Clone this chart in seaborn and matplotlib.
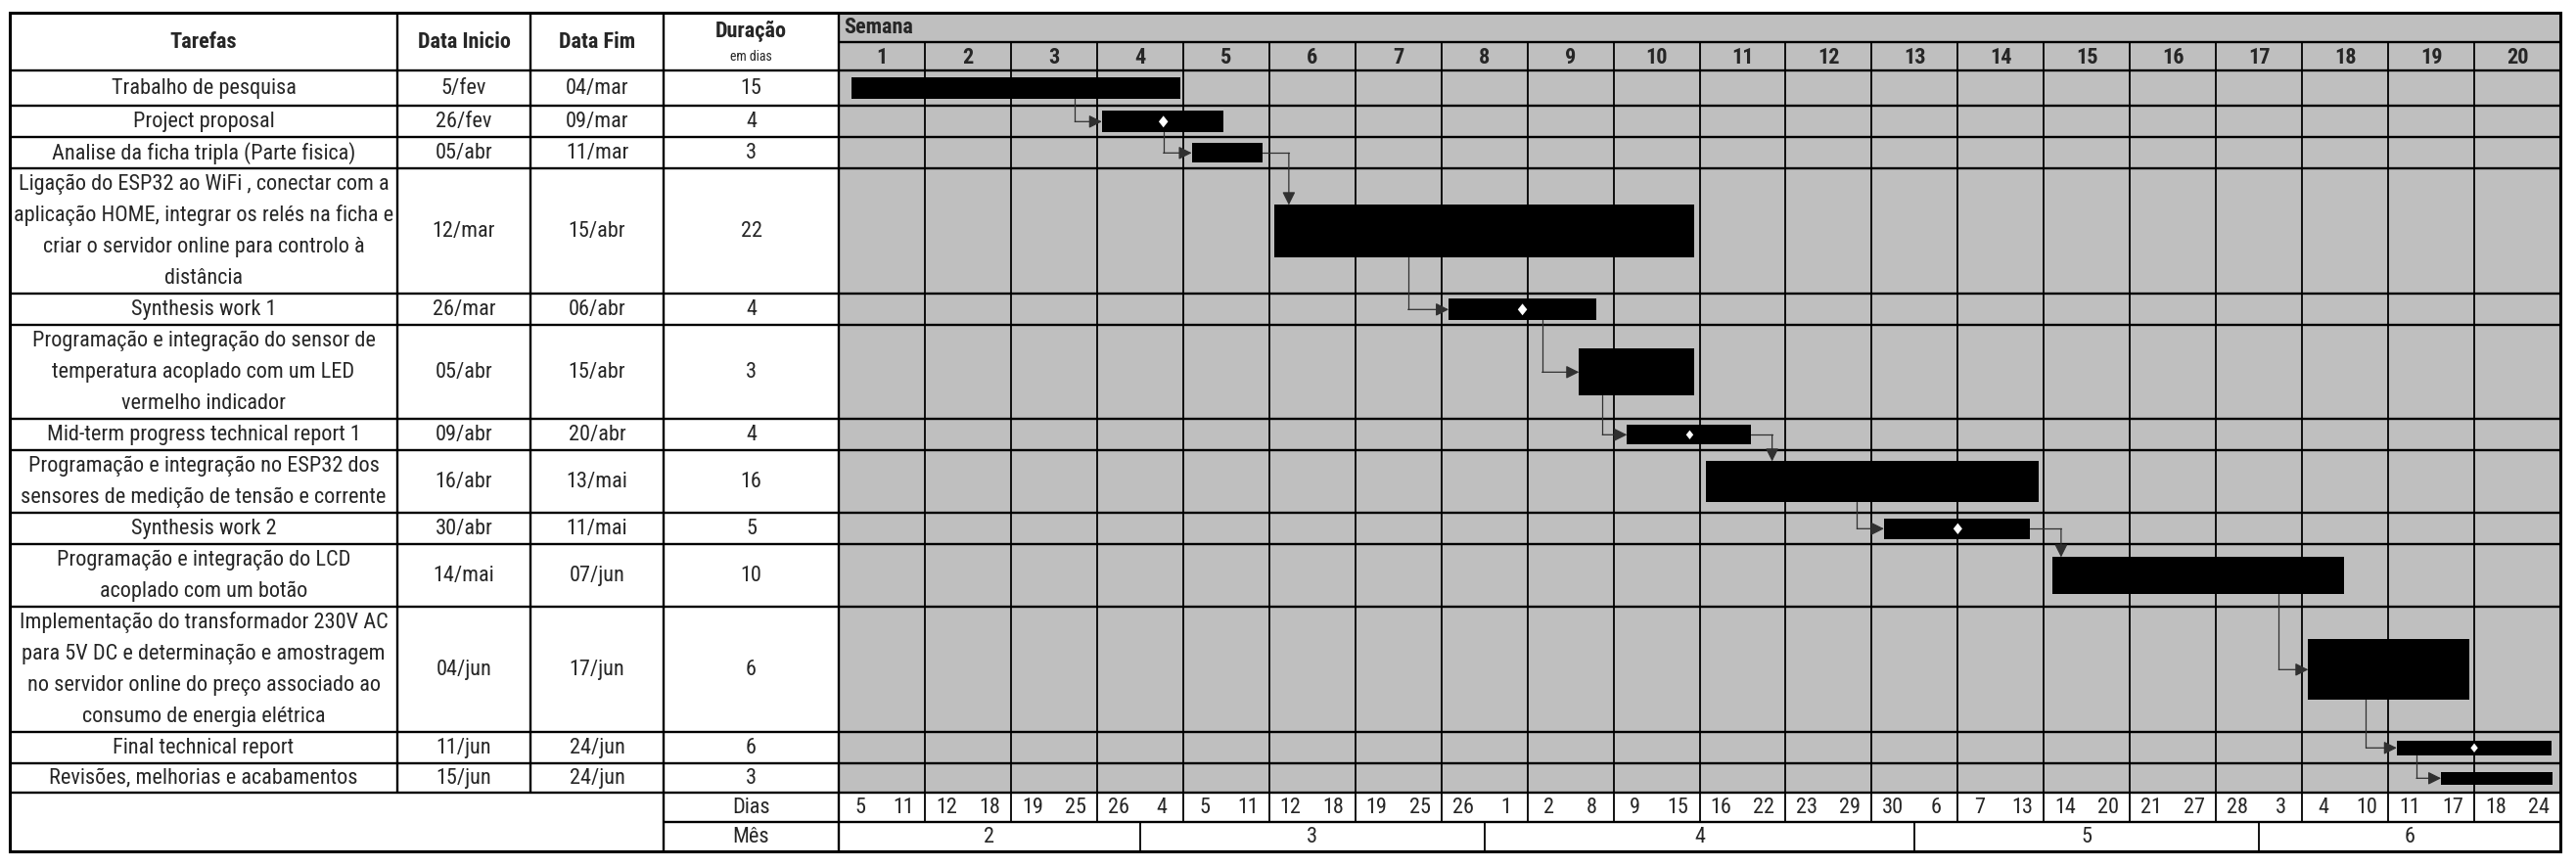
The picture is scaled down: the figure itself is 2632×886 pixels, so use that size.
import matplotlib
matplotlib.use("Agg")
import matplotlib.pyplot as plt
import pandas as pd
import seaborn as sns
from matplotlib.path import Path
from matplotlib import font_manager

# ---- dados ----
tarefas = [
    ["Trabalho de pesquisa"],
    ["Project proposal"],
    ["Analise da ficha tripla (Parte fisica)"],
    ["Ligação do ESP32 ao WiFi , conectar com a",
     "aplicação HOME, integrar os relés na ficha e",
     "criar o servidor online para controlo à",
     "distância"],
    ["Synthesis work 1"],
    ["Programação e integração do sensor de",
     "temperatura acoplado com um LED",
     "vermelho indicador"],
    ["Mid-term progress technical report 1"],
    ["Programação e integração no ESP32 dos",
     "sensores de medição de tensão e corrente"],
    ["Synthesis work 2"],
    ["Programação e integração do LCD",
     "acoplado com um botão"],
    ["Implementação do transformador 230V AC",
     "para 5V DC e determinação e amostragem",
     "no servidor online do preço associado ao",
     "consumo de energia elétrica"],
    ["Final technical report"],
    ["Revisões, melhorias e acabamentos"],
]
data_inicio = ["5/fev", "26/fev", "05/abr", "12/mar", "26/mar", "05/abr", "09/abr",
               "16/abr", "30/abr", "14/mai", "04/jun", "11/jun", "15/jun"]
data_fim = ["04/mar", "09/mar", "11/mar", "15/abr", "06/abr", "15/abr", "20/abr",
            "13/mai", "11/mai", "07/jun", "17/jun", "24/jun", "24/jun"]
duracao = [15, 4, 3, 22, 4, 3, 4, 16, 5, 10, 6, 6, 3]

semanas = [1, 2, 3, 4, 5, 6, 7, 8, 9, 10, 11, 12, 13, 14, 15, 16, 17, 18, 19, 20]
dia_ini = [5, 12, 19, 26, 5, 12, 19, 26, 2, 9, 16, 23, 30, 7, 14, 21, 28, 4, 11, 18]
dia_fim = [11, 18, 25, 4, 11, 18, 25, 1, 8, 15, 22, 29, 6, 13, 20, 27, 3, 10, 17, 24]
meses = ["2", "3", "4", "5", "6"]
meses_meias = [7, 8, 10, 8, 7]   # meias-semanas por mes

# barras do gantt, em dias a contar de 5/fev
bar_inicio = [1.0, 21.4, 28.7, 35.4, 49.6, 60.2, 64.1, 70.5, 85.0, 98.7, 119.5, 126.7, 130.3]
bar_fim = [27.8, 31.3, 34.5, 69.6, 61.6, 69.6, 74.2, 97.6, 96.9, 122.4, 132.6, 139.3, 139.4]
marco_tarefa = [1, 4, 6, 8, 11]
marco_dia = [26.4, 55.6, 69.2, 91.0, 133.0]
# ligacoes: origem, destino, tipo, dia do troco vertical
lig_origem = [0, 1, 2, 3, 4, 5, 6, 7, 8, 9, 10, 11]
lig_destino = [1, 2, 3, 4, 5, 6, 7, 8, 9, 10, 11, 12]
lig_tipo = ["baixo", "baixo", "direita", "baixo", "baixo", "baixo",
            "direita", "baixo", "direita", "baixo", "baixo", "baixo"]
lig_dia = [19.2, 26.4, 36.6, 46.3, 57.2, 62.1, 75.9, 82.8, 99.4, 117.1, 124.2, 128.3]

# ---- layout (pixels) ----
W, H = 2632, 886
cx = [10, 406, 542, 678, 857]
gx0, gx1 = 857, 2616
y_top, y_sem, y_head = 12.7, 42.7, 72.3
row_h = [36, 32, 32, 128, 32, 96, 32, 64, 32, 64, 128, 32, 30]
bar_h = [21.7, 21.7, 19.7, 53.7, 21.7, 47.7, 19.7, 41.7, 20.7, 37.7, 61.7, 14.7, 13]
marco_px = [8.6, 8.6, 6.7, 8.2, 6.7]
dias_h, mes_h = 30, 30
GREY = "#bfbfbf"
LW_B, LW_R, LW_C = 2.2, 1.7, 1.3

sns.set_theme(style="white")
disponiveis = {f.name for f in font_manager.fontManager.ttflist}
fonte, FS = "Lato", 14.5
for nome, tam in [("Liberation Sans Narrow", 15.5), ("Roboto Condensed", 16),
                  ("Open Sans Condensed", 15.5)]:
    if nome in disponiveis:
        fonte, FS = nome, tam
        break
plt.rcParams["font.family"] = [fonte, "DejaVu Sans"]

df = pd.DataFrame({"inicio": bar_inicio, "fim": bar_fim, "h": bar_h, "rows": row_h})
df["topo"] = df["rows"].cumsum() - df["rows"]
df["centro"] = df["topo"] + df["rows"] / 2

fig = plt.figure(figsize=(W / 100, H / 100), dpi=100)
tab = fig.add_axes([0, 0, 1, 1])
tab.set_xlim(0, W)
tab.set_ylim(H, 0)
tab.axis("off")

y_rows_end = y_head + sum(row_h)
y_dias = y_rows_end + dias_h
y_mes = y_dias + mes_h
wk = (gx1 - gx0) / len(semanas)

# fundo cinzento da zona das semanas
tab.add_patch(plt.Rectangle((gx0, y_top), gx1 - gx0, y_rows_end - y_top,
                            facecolor=GREY, edgecolor="none", zorder=0))

# linhas horizontais
tab.hlines(y_sem, gx0, gx1, color="black", lw=LW_R)
yy = y_head
tab.hlines(yy, cx[0], gx1, color="black", lw=LW_R)
for h in row_h:
    yy += h
    tab.hlines(yy, cx[0], gx1, color="black", lw=LW_R)
tab.hlines(y_dias, cx[3], gx1, color="black", lw=LW_R)

# linhas verticais
for x in cx[1:4]:
    tab.vlines(x, y_top, y_rows_end, color="black", lw=LW_R)
tab.vlines(cx[3], y_rows_end, y_mes, color="black", lw=LW_R)
tab.vlines(cx[4], y_top, y_mes, color="black", lw=LW_R)
for i in range(1, len(semanas)):
    tab.vlines(gx0 + i * wk, y_sem, y_dias, color="black", lw=LW_C)
acc = 0
for n in meses_meias[:-1]:
    acc += n
    tab.vlines(gx0 + acc * wk / 2, y_dias, y_mes, color="black", lw=LW_C)
tab.add_patch(plt.Rectangle((cx[0], y_top), gx1 - cx[0], y_mes - y_top,
                            facecolor="none", edgecolor="black", lw=LW_B, zorder=5))

# cabecalho
ymid = (y_top + y_head) / 2
tab.text((cx[0] + cx[1]) / 2, ymid, "Tarefas", ha="center", va="center",
         fontsize=FS, fontweight="bold")
tab.text((cx[1] + cx[2]) / 2, ymid, "Data Inicio", ha="center", va="center",
         fontsize=FS, fontweight="bold")
tab.text((cx[2] + cx[3]) / 2, ymid, "Data Fim", ha="center", va="center",
         fontsize=FS, fontweight="bold")
tab.text((cx[3] + cx[4]) / 2, 31.5, "Duração", ha="center", va="center",
         fontsize=FS, fontweight="bold")
tab.text((cx[3] + cx[4]) / 2, 57.5, "em dias", ha="center", va="center", fontsize=10)
tab.text(gx0 + 5, (y_top + y_sem) / 2, "Semana", ha="left", va="center",
         fontsize=FS, fontweight="bold")
for i, s in enumerate(semanas):
    tab.text(gx0 + (i + 0.5) * wk, (y_sem + y_head) / 2 + 1, str(s), ha="center",
             va="center", fontsize=FS, fontweight="bold")

# linhas da tabela
for i, linhas in enumerate(tarefas):
    top = y_head + df["topo"][i]
    rh = row_h[i]
    n = len(linhas)
    for j, t in enumerate(linhas):
        tab.text((cx[0] + cx[1]) / 2, top + (j + 0.5) * rh / n, t, ha="center",
                 va="center", fontsize=FS)
    yc = top + rh / 2
    tab.text((cx[1] + cx[2]) / 2, yc, data_inicio[i], ha="center", va="center", fontsize=FS)
    tab.text((cx[2] + cx[3]) / 2, yc, data_fim[i], ha="center", va="center", fontsize=FS)
    tab.text((cx[3] + cx[4]) / 2, yc, str(duracao[i]), ha="center", va="center", fontsize=FS)

# dias e meses
ycd = (y_rows_end + y_dias) / 2
ycm = (y_dias + y_mes) / 2
tab.text((cx[3] + cx[4]) / 2, ycd, "Dias", ha="center", va="center", fontsize=FS)
tab.text((cx[3] + cx[4]) / 2, ycm, "Mês", ha="center", va="center", fontsize=FS)
for i in range(len(semanas)):
    tab.text(gx0 + (i + 0.25) * wk, ycd, str(dia_ini[i]), ha="center", va="center", fontsize=FS)
    tab.text(gx0 + (i + 0.75) * wk, ycd, str(dia_fim[i]), ha="center", va="center", fontsize=FS)
acc = 0
for m, n in zip(meses, meses_meias):
    tab.text(gx0 + (acc + n / 2) * wk / 2, ycm, m, ha="center", va="center", fontsize=FS)
    acc += n

# ---- gantt ----
g = fig.add_axes([gx0 / W, 1 - y_rows_end / H, (gx1 - gx0) / W, sum(row_h) / H])
g.patch.set_alpha(0)

g.barh(df["centro"], df["fim"] - df["inicio"], left=df["inicio"], height=df["h"],
       color="black", edgecolor="none", zorder=3)

LC = "#303030"
for o, d, tp, xv in zip(lig_origem, lig_destino, lig_tipo, lig_dia):
    ap = dict(arrowstyle="-|>", color=LC, lw=0.9, mutation_scale=20,
              shrinkA=0, shrinkB=0)
    if tp == "baixo":
        y0 = df["centro"][o] + df["h"][o] / 2
        y1 = df["centro"][d]
        g.plot([xv, xv], [y0, y1], color=LC, lw=0.9, zorder=2)
        g.annotate("", xy=(df["inicio"][d], y1), xytext=(xv, y1), arrowprops=ap, zorder=2)
    else:
        y0 = df["centro"][o]
        y1 = df["centro"][d] - df["h"][d] / 2
        g.plot([df["fim"][o], xv], [y0, y0], color=LC, lw=0.9, zorder=2)
        g.annotate("", xy=(xv, y1), xytext=(xv, y0), arrowprops=ap, zorder=2)

losango = Path([(0, 1), (0.8, 0), (0, -1), (-0.8, 0), (0, 1)],
               [Path.MOVETO, Path.LINETO, Path.LINETO, Path.LINETO, Path.CLOSEPOLY])
marcos = pd.DataFrame({"dia": marco_dia,
                       "y": [df["centro"][t] for t in marco_tarefa]})
sns.scatterplot(data=marcos, x="dia", y="y", marker=losango,
                s=[p ** 2 for p in marco_px], color="white", edgecolor="none",
                linewidth=0, ax=g, zorder=4, legend=False)
g.set_xlim(0, 7 * len(semanas))
g.set_ylim(sum(row_h), 0)
g.axis("off")

fig.savefig("out.png", dpi=100)
